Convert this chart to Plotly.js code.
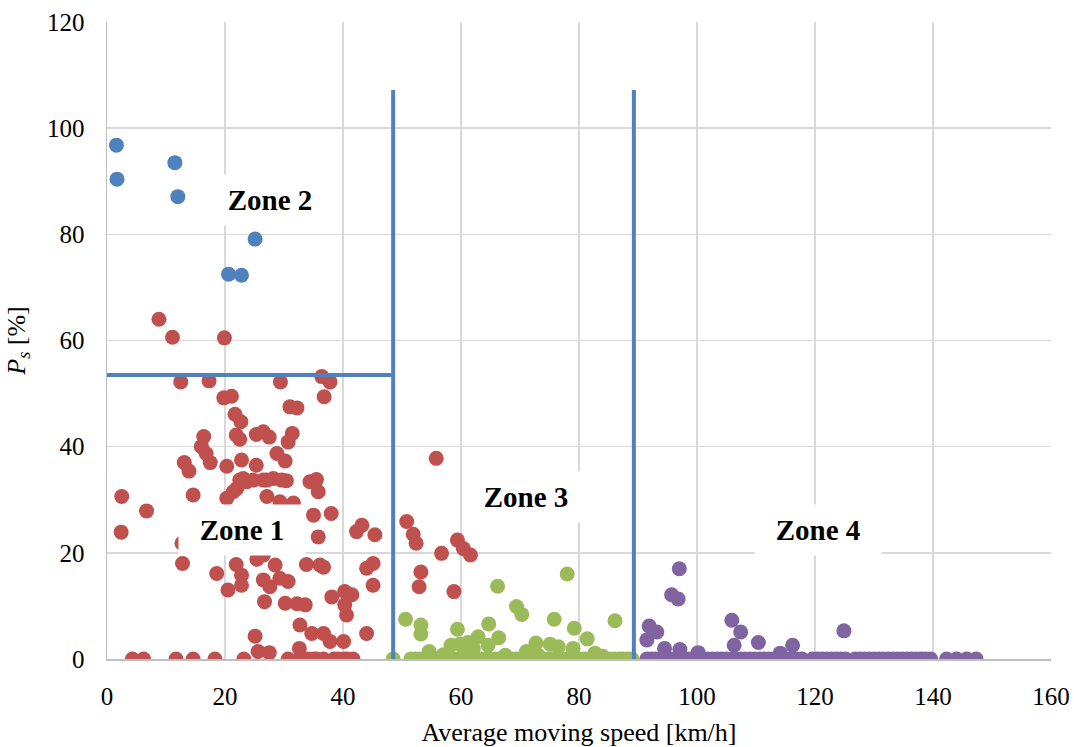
<!DOCTYPE html>
<html>
<head>
<meta charset="utf-8">
<script src="https://cdn.plot.ly/plotly-3.0.1.min.js"></script>
<style>html,body{margin:0;padding:0;background:#fff;}#chart{width:1074px;height:747px;}</style>
</head>
<body>
<div id="chart"></div>
<script>
// Zone 2 (blue)
const zone2X = [1.6, 1.7, 11.5, 12.0, 25.1, 20.6, 22.8];
const zone2Y = [96.8, 90.4, 93.5, 87.1, 79.1, 72.5, 72.3];

// Zone 1 (red)
const zone1X = [8.8, 11.1, 19.9,
  12.5, 17.3, 29.4, 36.4, 37.8, 36.8,
  19.8, 21.1, 21.7, 22.7, 31.0, 32.2,
  16.4, 16.0, 16.8, 17.5,
  21.9, 22.5, 25.3, 26.5, 27.5, 31.4, 30.7,
  28.8, 30.2, 13.1, 13.9, 20.3, 22.8, 25.3,
  22.5, 23.7, 22.0, 24.8, 26.5, 28.2, 29.6, 30.4, 21.4, 23.1, 27.1,
  34.4, 35.5, 35.8,
  14.6, 20.3, 27.1, 29.3, 31.6,
  2.5, 6.7, 2.4,
  35.0, 38.0, 35.8,
  43.2, 42.3, 45.4,
  12.7, 12.8, 18.6, 20.5,
  21.9, 22.8, 22.8,
  25.4, 26.5, 28.5,
  26.5, 27.6, 29.3, 30.7,
  26.7, 30.2, 32.2, 33.6,
  33.8, 36.7, 36.1,
  44.0, 45.1, 45.1,
  38.1, 40.3, 41.5, 40.3, 40.6,
  32.7, 34.7, 36.7, 37.8, 40.1,
  25.1, 44.0,
  25.6, 27.5, 32.6,
  4.3, 6.2, 11.7, 14.6, 18.3, 23.2, 30.7, 32.7, 33.5, 34.1, 35.0, 35.5, 36.7, 38.5, 39.2, 40.3, 40.8, 41.7,
  55.8, 50.8, 51.9, 52.4, 59.4, 60.4, 61.6, 56.7, 53.2, 52.9, 58.8];
const zone1Y = [64.0, 60.6, 60.5,
  52.2, 52.4, 52.2, 53.2, 52.2, 49.4,
  49.2, 49.5, 46.1, 44.7, 47.5, 47.3,
  41.9, 40.0, 38.7, 37.0,
  42.2, 41.4, 42.3, 42.8, 41.8, 42.5, 40.9,
  38.7, 37.3, 37.0, 35.4, 36.3, 37.5, 36.5,
  33.7, 33.4, 32.1, 33.7, 33.7, 34.0, 33.7, 33.6, 31.5, 34.0, 33.7,
  33.4, 33.8, 31.5,
  30.9, 30.3, 30.6, 29.6, 29.4,
  30.6, 27.9, 23.9,
  27.1, 27.4, 23.0,
  25.2, 24.0, 23.4,
  21.8, 18.0, 16.1, 13.0,
  17.8, 15.8, 13.9,
  18.8, 19.6, 17.7,
  14.9, 13.6, 15.2, 14.6,
  10.8, 10.5, 10.4, 10.2,
  17.8, 17.3, 17.7,
  17.1, 18.0, 13.9,
  11.7, 12.7, 12.1, 10.2, 8.3,
  6.4, 4.8, 4.8, 3.3, 3.3,
  4.3, 4.8,
  1.4, 1.2, 2.0,
  0, 0, 0, 0, 0, 0, 0, 0, 0, 0, 0, 0, 0, 0, 0, 0, 0, 0,
  37.8, 25.9, 23.5, 21.8, 22.4, 20.8, 19.6, 19.9, 16.4, 13.6, 12.7];

// Zone 3 (green)
const zone3X = [78.0, 66.2, 69.4, 70.3, 50.6, 53.2, 53.2, 59.4, 64.7, 75.8, 79.2, 86.1, 81.4, 62.9, 66.4,
  58.3, 59.8, 61.2, 62.1, 54.6, 64.6, 72.7, 75.1, 76.5, 79.0, 82.7, 71.1, 48.5,
  57.0, 60.5, 67.5, 73.0, 84.0,
  51.5, 52.3, 53.0, 53.8, 54.5, 55.3, 56.0, 56.8, 57.5, 58.2, 59.0, 59.7, 60.5, 61.2, 62.0, 62.8,
  63.5, 64.3, 65.0, 65.8, 66.5, 67.3, 68.0, 68.8, 69.5, 70.3, 71.0, 71.8, 72.5, 73.3, 74.0, 74.8,
  75.5, 76.3, 77.0, 77.8, 78.5, 79.3, 80.0, 80.8, 81.5, 82.3, 83.0, 83.8, 84.5, 85.3, 86.0, 86.8,
  87.5, 88.3, 89.0];
const zone3Y = [16.0, 13.7, 9.9, 8.4, 7.5, 6.4, 4.7, 5.6, 6.6, 7.5, 5.8, 7.2, 3.8, 4.2, 4.0,
  2.6, 2.8, 3.1, 2.0, 1.4, 2.6, 3.0, 2.8, 2.3, 2.0, 1.1, 1.4, 0,
  0.8, 1.0, 0.7, 0.8, 0.5,
  0, 0, 0, 0, 0, 0, 0, 0, 0, 0, 0, 0, 0, 0, 0, 0,
  0, 0, 0, 0, 0, 0, 0, 0, 0, 0, 0, 0, 0, 0, 0, 0,
  0, 0, 0, 0, 0, 0, 0, 0, 0, 0, 0, 0, 0, 0, 0, 0,
  0, 0, 0];

// Zone 4 (purple)
const zone4X = [97.0, 95.7, 96.8, 91.9, 93.2, 91.5, 105.9, 107.4, 124.9, 110.4, 116.2, 106.3, 94.5, 97.1, 100.2, 114.1,
  91.5, 92.3, 93.0, 93.8, 94.6, 95.4, 96.2, 97.0, 97.8, 98.6, 99.4, 100.2, 101.0, 101.8, 102.6, 103.4,
  104.2, 105.0, 105.8, 106.6, 107.4, 108.2, 109.0, 109.8, 110.6, 111.4, 112.2, 113.0, 113.8, 114.6, 115.4, 116.2,
  117.0, 117.8, 119.6, 120.4, 121.2, 122.0, 122.8, 123.6, 124.4, 125.2,
  126.8, 127.6, 128.4, 129.2, 130.0, 130.8, 131.6, 132.4, 133.2, 134.0, 134.8, 135.6, 136.4, 137.2, 138.0, 138.8, 139.6,
  142.3, 144.0, 145.7, 147.3];
const zone4Y = [17.0, 12.1, 11.3, 6.2, 5.1, 3.6, 7.3, 5.1, 5.3, 3.1, 2.6, 2.6, 2.0, 1.8, 1.2, 1.1,
  0, 0, 0, 0, 0, 0, 0, 0, 0, 0, 0, 0, 0, 0, 0, 0,
  0, 0, 0, 0, 0, 0, 0, 0, 0, 0, 0, 0, 0, 0, 0, 0,
  0, 0, 0, 0, 0, 0, 0, 0, 0, 0,
  0, 0, 0, 0, 0, 0, 0, 0, 0, 0, 0, 0, 0, 0, 0, 0, 0,
  0, 0, 0, 0];

// Zone boundaries
const hLineX = [0, 48.5];
const hLineY = [53.5, 53.5];
const vLine1X = [48.5, 48.5];
const vLine1Y = [0, 107.2];
const vLine2X = [89.3, 89.3];
const vLine2Y = [0, 107.2];

const zoneLabels = ["Zone 1", "Zone 2", "Zone 3", "Zone 4"];
const xTickVals = [0, 20, 40, 60, 80, 100, 120, 140, 160];
const yTickVals = [0, 20, 40, 60, 80, 100, 120];

const mk = (c) => ({color: c, size: 15, line: {width: 0}});
const pts = (x, y, c) => ({x: x, y: y, type: 'scatter', mode: 'markers', marker: mk(c), hoverinfo: 'x+y', showlegend: false});
const ln = (x, y) => ({x: x, y: y, type: 'scatter', mode: 'lines', line: {color: '#4f81bd', width: 4}, hoverinfo: 'skip', showlegend: false});

const data = [
  pts(zone1X, zone1Y, '#c0504d'),
  pts(zone3X, zone3Y, '#9bbb59'),
  pts(zone4X, zone4Y, '#8064a2'),
  pts(zone2X, zone2Y, '#4f81bd'),
  ln(hLineX, hLineY),
  ln(vLine1X, vLine1Y),
  ln(vLine2X, vLine2Y)
];

const serif = 'Liberation Serif, Times New Roman, serif';
const ann = (text, x, y) => ({text: '<b>' + text + '</b>', x: x, y: y, xref: 'x', yref: 'y', showarrow: false,
  font: {family: serif, size: 29, color: '#000'}, bgcolor: '#ffffff', width: 126, height: 50, borderpad: 0});

const layout = {
  width: 1074, height: 747,
  margin: {l: 107, r: 23, t: 22, b: 88},
  paper_bgcolor: '#fff', plot_bgcolor: '#fff',
  font: {family: serif, size: 25, color: '#000'},
  xaxis: {range: [0, 160], tickvals: xTickVals, showgrid: true, gridcolor: '#d9d9d9', gridwidth: 1.5,
    showline: true, linecolor: '#bfbfbf', linewidth: 1.5, zeroline: false, ticks: '', ticklabelstandoff: 14,
    tickfont: {family: serif, size: 25, color: '#000'},
    title: {text: 'Average moving speed [km/h]', font: {family: serif, size: 26, color: '#000'}, standoff: 14}},
  yaxis: {range: [0, 120], tickvals: yTickVals, showgrid: true, gridcolor: '#d9d9d9', gridwidth: 1.5,
    showline: true, linecolor: '#bfbfbf', linewidth: 1.5, zeroline: false, ticks: '', ticklabelstandoff: 16,
    tickfont: {family: serif, size: 25, color: '#000'},
    title: {text: '<i>P</i><sub><i>s</i></sub> [%]', font: {family: serif, size: 26, color: '#000'}, standoff: 14}},
  annotations: [
    ann(zoneLabels[0], 22.8, 24.3),
    ann(zoneLabels[1], 27.6, 86.4),
    ann(zoneLabels[2], 71.1, 30.6),
    ann(zoneLabels[3], 120.5, 24.3)
  ]
};

Plotly.newPlot('chart', data, layout, {displayModeBar: false, staticPlot: true});
</script>
</body>
</html>
